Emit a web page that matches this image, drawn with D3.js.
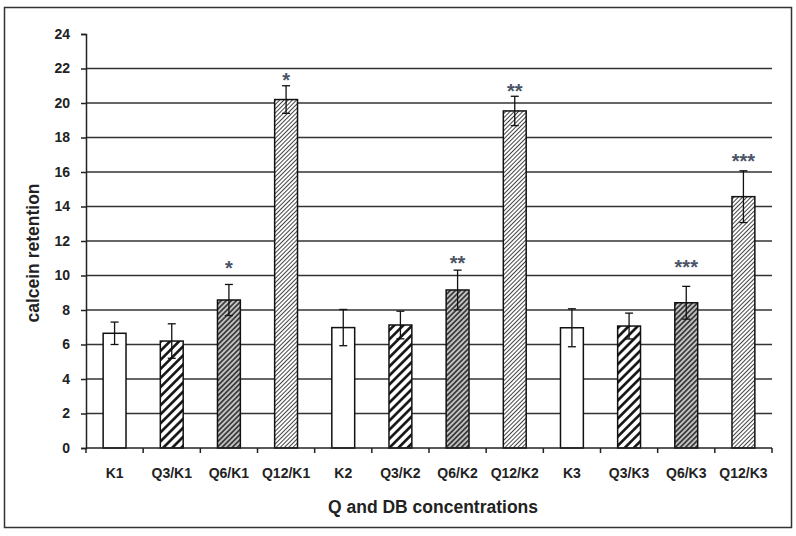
<!DOCTYPE html>
<html><head><meta charset="utf-8">
<script src="https://cdn.jsdelivr.net/npm/d3@7"></script>
<style>html,body{margin:0;padding:0;background:#fff}svg{display:block}</style>
</head><body>
<svg id="c" width="796" height="536"></svg>
<script>
const categories = ["K1","Q3/K1","Q6/K1","Q12/K1","K2","Q3/K2","Q6/K2","Q12/K2","K3","Q3/K3","Q6/K3","Q12/K3"];
const fillTypes  = ["K","Q3","Q6","Q12","K","Q3","Q6","Q12","K","Q3","Q6","Q12"];
const values     = [6.65,6.2,8.58,20.2,6.98,7.13,9.16,19.54,6.97,7.07,8.42,14.57];
const errors     = [0.65,1.0,0.9,0.8,1.05,0.8,1.15,0.85,1.1,0.75,0.95,1.5];
const sigLabels  = ["","","*","*","","","**","**","","","***","***"];
const sigY       = [0,0,10.7,21.6,0,0,11.0,21.0,0,0,10.8,16.9];
const yTicks     = [0,2,4,6,8,10,12,14,16,18,20,22,24];
const gridTicks  = [2,4,6,8,10,12,14,16,18,20,22];
const xTitle = "Q and DB concentrations";
const yTitle = "calcein retention";

const svg = d3.select("#c");
const font = "'Liberation Sans', Arial, sans-serif";
const L = 86, R = 772, T = 34, B = 448;

// outer frame
svg.append("rect").attr("x",4.5).attr("y",7.5).attr("width",787).attr("height",520)
  .attr("fill","none").attr("stroke","#333").attr("stroke-width",1.5);

const defs = svg.append("defs");
function hatch(id, period, lw, bg, fg){
  const p = defs.append("pattern").attr("id",id).attr("patternUnits","userSpaceOnUse")
    .attr("width",period).attr("height",period).attr("patternTransform","rotate(45)");
  p.append("rect").attr("width",period).attr("height",period).attr("fill",bg);
  p.append("line").attr("x1",period/2).attr("x2",period/2).attr("y1",0).attr("y2",period)
    .attr("stroke",fg).attr("stroke-width",lw);
}
hatch("pQ3", 6.4, 2.6, "#fff", "#111");
hatch("pQ6", 3.6, 1.5, "#c4c4c4", "#222");
hatch("pQ12", 3.0, 1.0, "#fff", "#444");
const fills = {K:"#fff", Q3:"url(#pQ3)", Q6:"url(#pQ6)", Q12:"url(#pQ12)"};

const x = d3.scaleBand().domain(categories).range([L,R]).paddingInner(0.6).paddingOuter(0.3);
const y = d3.scaleLinear().domain([0,24]).range([B,T]);

// gridlines
svg.append("g").selectAll("line").data(gridTicks).join("line")
  .attr("x1",L).attr("x2",R).attr("y1",d=>y(d)).attr("y2",d=>y(d))
  .attr("stroke","#333").attr("stroke-width",1.5);

// y axis
const ya = svg.append("g").attr("transform",`translate(${L},0)`)
  .call(d3.axisLeft(y).tickValues(yTicks).tickSize(5).tickPadding(11).tickFormat(d3.format("d")));
ya.select(".domain").attr("stroke","#222").attr("stroke-width",1.5);
ya.selectAll(".tick line").attr("stroke","#222").attr("stroke-width",1.5);
ya.selectAll("text").attr("font-family",font).attr("font-weight","bold").attr("font-size",14).attr("fill","#222");

// bars
svg.append("g").selectAll("rect").data(categories).join("rect")
  .attr("x",d=>x(d)).attr("width",x.bandwidth())
  .attr("y",(d,i)=>y(values[i])).attr("height",(d,i)=>B-y(values[i]))
  .attr("fill",(d,i)=>fills[fillTypes[i]]).attr("stroke","#111").attr("stroke-width",1.5);

// x axis
const xa = svg.append("g").attr("transform",`translate(0,${B})`);
xa.append("line").attr("x1",L).attr("x2",R).attr("stroke","#222").attr("stroke-width",1.5);
const bounds = d3.range(categories.length+1).map(i=>L+i*(R-L)/categories.length);
xa.selectAll("line.t").data(bounds).join("line").attr("class","t")
  .attr("x1",d=>d).attr("x2",d=>d).attr("y1",0).attr("y2",5).attr("stroke","#222").attr("stroke-width",1.5);
xa.selectAll("text").data(categories).join("text")
  .attr("x",d=>x(d)+x.bandwidth()/2).attr("y",30).attr("text-anchor","middle")
  .attr("font-family",font).attr("font-weight","bold").attr("font-size",14).attr("fill","#222").text(d=>d);

// error bars
const eg = svg.append("g").attr("stroke","#111").attr("stroke-width",1.3);
categories.forEach((c,i)=>{
  const cx = x(c)+x.bandwidth()/2, hi=y(values[i]+errors[i]), lo=y(values[i]-errors[i]);
  eg.append("line").attr("x1",cx).attr("x2",cx).attr("y1",hi).attr("y2",lo);
  eg.append("line").attr("x1",cx-4).attr("x2",cx+4).attr("y1",hi).attr("y2",hi);
  eg.append("line").attr("x1",cx-4).attr("x2",cx+4).attr("y1",lo).attr("y2",lo);
});

// significance
svg.append("g").selectAll("text").data(categories).join("text")
  .attr("x",d=>x(d)+x.bandwidth()/2).attr("y",(d,i)=>y(sigY[i])+12).attr("text-anchor","middle")
  .attr("font-family",font).attr("font-weight","bold").attr("font-size",20).attr("fill","#4a5366")
  .text((d,i)=>sigLabels[i]);

// titles
svg.append("text").attr("x",433).attr("y",513).attr("text-anchor","middle")
  .attr("font-family",font).attr("font-weight","bold").attr("font-size",17.5).attr("fill","#222").text(xTitle);
svg.append("text").attr("transform",`translate(39,253) rotate(-90)`).attr("text-anchor","middle")
  .attr("font-family",font).attr("font-weight","bold").attr("font-size",17.5).attr("fill","#222").text(yTitle);
</script>
</body></html>
